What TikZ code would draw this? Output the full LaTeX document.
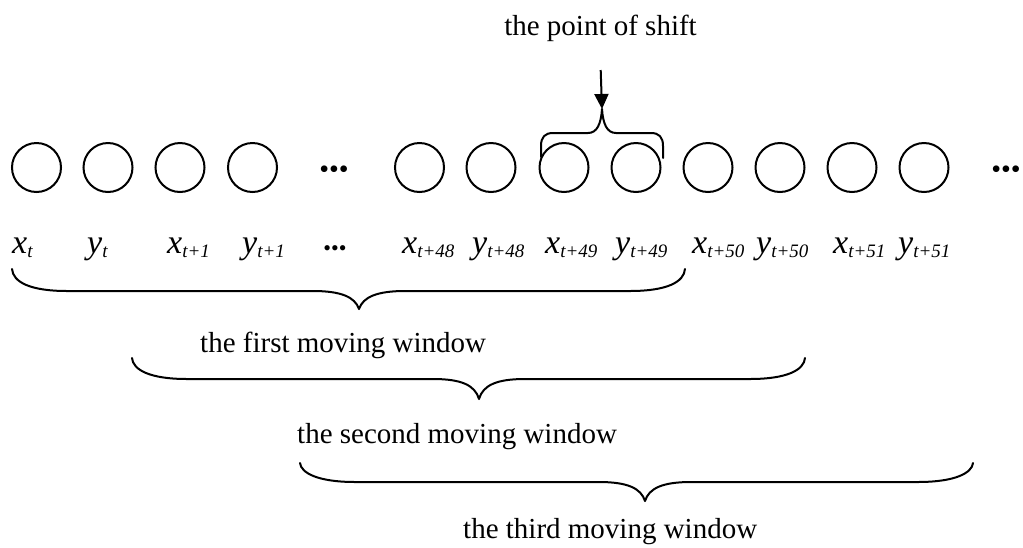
\documentclass[tikz,border=0pt]{standalone}
\usepackage{fontspec}
\setmainfont{Liberation Serif}
\usetikzlibrary{arrows.meta}

% variable with a subscript, set as in the source document
\newcommand\sublab[2]{{\fontsize{34}{34}\selectfont\itshape #1}\raisebox{-4pt}{\fontsize{19}{19}\selectfont\itshape #2}}

% large curly brace opening downwards: left x, right x, tip x, top y, bar y, tip y
\newcommand\windowbrace[6]{%
  \draw[bracepath] (#1,#4) .. controls ({#1+1},{#5-9}) and ({#1+18},#5) .. ({#1+55},#5)
    -- ({#3-46},#5) .. controls ({#3-18},#5) and ({#3-4},{#5+6}) .. (#3,#6)
    .. controls ({#3+4},{#5+6}) and ({#3+18},#5) .. ({#3+46},#5)
    -- ({#2-55},#5) .. controls ({#2-18},#5) and ({#2-1},{#5-9}) .. (#2,#4);}

\begin{document}
\begin{tikzpicture}[x=1pt,y=-1pt,
  cell/.style={circle,draw,line width=2pt,minimum size=49pt,inner sep=0pt},
  lbl/.style={anchor=base west,inner sep=0pt},
  caption/.style={inner sep=0pt,font=\fontsize{29}{30}\selectfont},
  bigdots/.style={anchor=base,inner sep=0pt,font=\fontsize{28}{28}\selectfont},
  smalldots/.style={anchor=base,inner sep=0pt,font=\fontsize{22}{22}\selectfont},
  bracepath/.style={line width=2pt,line join=round,line cap=round}]
\useasboundingbox (0,0) rectangle (1023,547);

% the sequence of observations
\foreach \x [count=\i] in {36.5,108,180,252.5,419.5,491,564,636,708,780,852,924}
  \node[cell] (c\i) at (\x,167.5) {};
\node[bigdots] (gap1) at (334,178) {•••};
\node[bigdots] (gap2) at (1006,178) {•••};

% labels under the circles
\node[lbl] (l1)  at (12,253)  {\sublab{x}{t}};
\node[lbl] (l2)  at (87,253)  {\sublab{y}{t}};
\node[lbl] (l3)  at (167,253) {\sublab{x}{t+1}};
\node[lbl] (l4)  at (242,253) {\sublab{y}{t+1}};
\node[smalldots] (lgap) at (335,255) {•••};
\node[lbl] (l5)  at (402,253) {\sublab{x}{t+48}};
\node[lbl] (l6)  at (472,253) {\sublab{y}{t+48}};
\node[lbl] (l7)  at (545,253) {\sublab{x}{t+49}};
\node[lbl] (l8)  at (615,253) {\sublab{y}{t+49}};
\node[lbl] (l9)  at (692,253) {\sublab{x}{t+50}};
\node[lbl] (l10) at (756,253) {\sublab{y}{t+50}};
\node[lbl] (l11) at (833,253) {\sublab{x}{t+51}};
\node[lbl] (l12) at (898,253) {\sublab{y}{t+51}};

% the point of shift
\node[caption,anchor=base] (title) at (600.5,35) {the point of shift};
\coordinate (arrowtop) at (600.7,70);
\coordinate (shiftpt) at (602,109);
\draw[bracepath] (541,157) -- (541,146) .. controls (541,137) and (545,133) .. (553,133)
  -- (588,133) .. controls (597,133) and (601,124) .. (shiftpt)
  .. controls (603,124) and (607,133) .. (616,133)
  -- (651,133) .. controls (659,133) and (663,137) .. (663,146) -- (663,158);
\draw[line width=2pt,-{Triangle[length=15pt,width=14pt]}] (arrowtop) -- (shiftpt);

% moving windows
\windowbrace{12}{685}{359}{269}{291}{309}
\node[caption,anchor=base west] (win1) at (200,352) {the first moving window};
\windowbrace{132}{805}{479}{358}{379}{399}
\node[caption,anchor=base west] (win2) at (297,443) {the second moving window};
\windowbrace{300}{973}{645}{463}{482}{501}
\node[caption,anchor=base west] (win3) at (463,538) {the third moving window};
\end{tikzpicture}
\end{document}
